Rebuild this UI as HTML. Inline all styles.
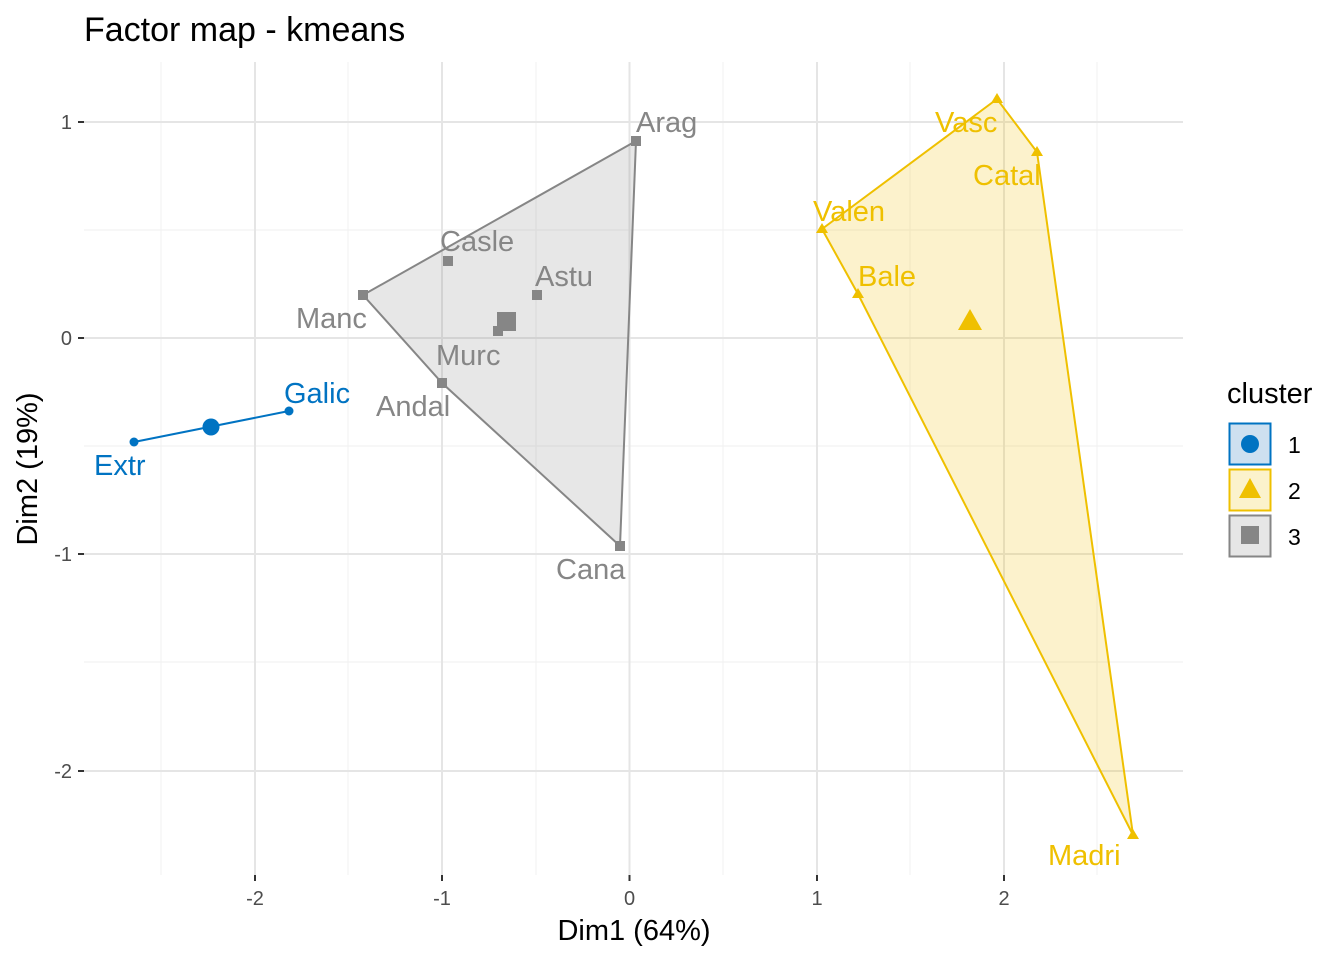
<!DOCTYPE html>
<html><head><meta charset="utf-8"><style>body{margin:0;background:#fff}svg{display:block}</style></head><body>
<svg width="1344" height="960" viewBox="0 0 1344 960" xmlns="http://www.w3.org/2000/svg" font-family="Liberation Sans, Arial, sans-serif">
<rect width="1344" height="960" fill="#fff"/>
<g stroke="#f2f2f2" stroke-width="1.2">
<line x1="161" y1="62" x2="161" y2="875"/><line x1="348" y1="62" x2="348" y2="875"/><line x1="536" y1="62" x2="536" y2="875"/><line x1="723" y1="62" x2="723" y2="875"/><line x1="910" y1="62" x2="910" y2="875"/><line x1="1097" y1="62" x2="1097" y2="875"/>
<line x1="84" y1="230" x2="1183" y2="230"/><line x1="84" y1="446" x2="1183" y2="446"/><line x1="84" y1="662" x2="1183" y2="662"/>
</g>
<g stroke="#e5e5e5" stroke-width="2">
<line x1="255" y1="62" x2="255" y2="875"/><line x1="442" y1="62" x2="442" y2="875"/><line x1="629.5" y1="62" x2="629.5" y2="875"/><line x1="817" y1="62" x2="817" y2="875"/><line x1="1004" y1="62" x2="1004" y2="875"/>
<line x1="84" y1="122" x2="1183" y2="122"/><line x1="84" y1="338" x2="1183" y2="338"/><line x1="84" y1="554" x2="1183" y2="554"/><line x1="84" y1="771" x2="1183" y2="771"/>
</g>
<polygon points="636,141 363,295 442,383 620,546" fill="#868686" fill-opacity="0.2" stroke="#868686" stroke-width="2"/>
<polygon points="822,229 997,99 1037,152 1133,835 858,294" fill="#EFC000" fill-opacity="0.2" stroke="#EFC000" stroke-width="2"/>
<line x1="134" y1="442" x2="289" y2="411" stroke="#0073C2" stroke-width="2"/>
<g fill="#868686">
<rect x="631" y="136" width="10" height="10"/><rect x="358" y="290" width="10" height="10"/><rect x="437" y="378" width="10" height="10"/><rect x="615" y="541" width="10" height="10"/><rect x="443" y="256" width="10" height="10"/><rect x="532" y="290" width="10" height="10"/><rect x="493" y="326" width="10" height="10"/><rect x="497" y="312" width="19" height="19"/>
</g>
<g fill="#EFC000">
<polygon points="997,93 1003,103 991,103"/><polygon points="1037,146 1043,156 1031,156"/><polygon points="822,223 828,233 816,233"/><polygon points="858,288 864,298 852,298"/><polygon points="1133,829 1139,839 1127,839"/><polygon points="970,309 982,330 958,330"/>
</g>
<g fill="#0073C2"><circle cx="134" cy="442" r="4.5"/><circle cx="289" cy="411" r="4.5"/><circle cx="211" cy="427" r="8.5"/></g>
<g font-size="29" fill="#868686">
<text x="636" y="132">Arag</text><text x="440" y="251">Casle</text><text x="535" y="286">Astu</text><text x="296" y="328">Manc</text><text x="436" y="365">Murc</text><text x="376" y="416">Andal</text><text x="556" y="579">Cana</text>
</g>
<g font-size="29" fill="#EFC000">
<text x="935" y="132">Vasc</text><text x="973" y="185">Catal</text><text x="813" y="221">Valen</text><text x="858" y="286">Bale</text><text x="1048" y="865">Madri</text>
</g>
<g font-size="29" fill="#0073C2"><text x="284" y="403">Galic</text><text x="94" y="475">Extr</text></g>
<g stroke="#333" stroke-width="2">
<line x1="255" y1="875" x2="255" y2="881"/><line x1="442" y1="875" x2="442" y2="881"/><line x1="629.5" y1="875" x2="629.5" y2="881"/><line x1="817" y1="875" x2="817" y2="881"/><line x1="1004" y1="875" x2="1004" y2="881"/>
<line x1="78" y1="122" x2="84" y2="122"/><line x1="78" y1="338" x2="84" y2="338"/><line x1="78" y1="554" x2="84" y2="554"/><line x1="78" y1="771" x2="84" y2="771"/>
</g>
<g font-size="20" fill="#4d4d4d" text-anchor="middle">
<text x="255" y="905">-2</text><text x="442" y="905">-1</text><text x="629.5" y="905">0</text><text x="817" y="905">1</text><text x="1004" y="905">2</text>
</g>
<g font-size="20" fill="#4d4d4d" text-anchor="end">
<text x="72" y="129">1</text><text x="72" y="345">0</text><text x="72" y="561">-1</text><text x="72" y="778">-2</text>
</g>
<text x="634" y="940" font-size="29" text-anchor="middle" fill="#000">Dim1 (64%)</text>
<text transform="translate(37,469) rotate(-90)" font-size="29" text-anchor="middle" fill="#000">Dim2 (19%)</text>
<text x="84" y="41" font-size="34" fill="#000">Factor map - kmeans</text>
<text x="1227" y="403" font-size="29" fill="#000">cluster</text>
<rect x="1229.5" y="423.5" width="41" height="41" fill="#cde0f0" stroke="#0073C2" stroke-width="2"/>
<circle cx="1250" cy="444" r="9" fill="#0073C2"/>
<rect x="1229.5" y="469.5" width="41" height="41" fill="#fbf2cc" stroke="#EFC000" stroke-width="2"/>
<polygon points="1250,478 1261,498 1239,498" fill="#EFC000"/>
<rect x="1229.5" y="515.5" width="41" height="41" fill="#e6e6e6" stroke="#868686" stroke-width="2"/>
<rect x="1241" y="526" width="18" height="18" fill="#868686"/>
<g font-size="23" fill="#000"><text x="1288" y="453">1</text><text x="1288" y="499">2</text><text x="1288" y="545">3</text></g>
</svg>
</body></html>
